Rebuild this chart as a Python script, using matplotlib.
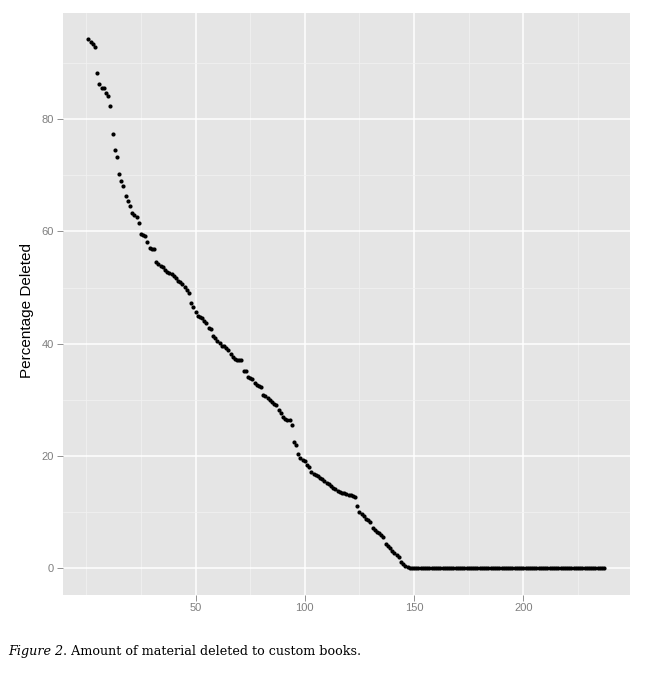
import matplotlib
matplotlib.use("Agg")
import matplotlib.pyplot as plt

# ---- data ----
pct_deleted_head = [
    94.3, 93.8, 93.4, 92.9, 88.2, 86.3, 85.6, 85.5, 84.7, 84.2,   # 1-10
    82.3, 77.4, 74.5, 73.3, 70.3, 69.0, 68.1, 66.3, 65.5, 64.6,   # 11-20
    63.3, 62.9, 62.5, 61.5, 59.6, 59.4, 59.2, 58.2, 57.1, 56.9,   # 21-30
    56.8, 54.6, 54.2, 53.9, 53.7, 53.1, 52.7, 52.6, 52.4, 52.0,   # 31-40
    51.7, 51.2, 50.9, 50.6, 50.1, 49.5, 49.1, 47.3, 46.5, 45.6,   # 41-50
    45.0, 44.7, 44.5, 44.1, 43.6, 42.8, 42.6, 41.4, 41.0, 40.4,   # 51-60
    40.1, 39.6, 39.5, 39.2, 38.8, 38.2, 37.6, 37.3, 37.1, 37.0,   # 61-70
    37.0, 35.2, 35.1, 34.1, 33.9, 33.7, 32.9, 32.7, 32.5, 32.2,   # 71-80
    30.9, 30.7, 30.3, 30.0, 29.6, 29.3, 29.0, 28.2, 27.6, 27.0,   # 81-90
    26.6, 26.4, 26.3, 25.5, 22.5, 22.0, 20.4, 19.7, 19.3, 19.1,   # 91-100
    18.3, 18.0, 17.1, 16.7, 16.5, 16.4, 16.1, 15.8, 15.5, 15.1,   # 101-110
    14.9, 14.6, 14.3, 14.0, 13.7, 13.5, 13.4, 13.3, 13.2, 13.1,   # 111-120
    13.0, 12.8, 12.7, 11.0, 10.0, 9.6, 9.2, 8.8, 8.5, 8.2,        # 121-130
    7.2, 6.8, 6.5, 6.2, 5.9, 5.6, 4.3, 3.9, 3.5, 3.1,             # 131-140
    2.7, 2.3, 2.0, 1.1, 0.8, 0.4, 0.1,                            # 141-147
]
pct_deleted_tail = [
    0, 0, 0, 0, 0, 0, 0, 0, 0, 0, 0, 0, 0, 0, 0,
    0, 0, 0, 0, 0, 0, 0, 0, 0, 0, 0, 0, 0, 0, 0,
    0, 0, 0, 0, 0, 0, 0, 0, 0, 0, 0, 0, 0, 0, 0,
    0, 0, 0, 0, 0, 0, 0, 0, 0, 0, 0, 0, 0, 0, 0,
    0, 0, 0, 0, 0, 0, 0, 0, 0, 0, 0, 0, 0, 0, 0,
    0, 0, 0, 0, 0, 0, 0, 0, 0, 0, 0, 0, 0, 0, 0,
]  # books 148-237
pct_deleted = pct_deleted_head + pct_deleted_tail
book_index = list(range(1, len(pct_deleted) + 1))

x_major = [50, 100, 150, 200]
x_minor = [0, 25, 75, 125, 175, 225]
y_major = [0, 20, 40, 60, 80]
y_minor = [10, 30, 50, 70, 90]
y_label = "Percentage Deleted"
caption_italic = "Figure 2"
caption_rest = ". Amount of material deleted to custom books."

# ---- figure ----
W, H = 654, 677
fig = plt.figure(figsize=(W / 100, H / 100), dpi=100)
fig.patch.set_facecolor("white")
left, right, top, bottom = 62.7, 630, 12.5, 594.5
ax = fig.add_axes([left / W, 1 - bottom / H, (right - left) / W, (bottom - top) / H])
ax.set_facecolor("#E5E5E5")
for s in ax.spines.values():
    s.set_visible(False)

ax.scatter(book_index, pct_deleted, s=9, color="black", linewidths=0, zorder=3)

xmin, xmax = min(book_index), max(book_index)
xr = xmax - xmin
ax.set_xlim(xmin - 0.05 * xr, xmax + 0.05 * xr)
ymin, ymax = min(pct_deleted), max(pct_deleted)
yr = ymax - ymin
ax.set_ylim(ymin - 0.05 * yr, ymax + 0.05 * yr)

ax.set_xticks(x_major)
ax.set_xticks(x_minor, minor=True)
ax.set_yticks(y_major)
ax.set_yticks(y_minor, minor=True)
ax.set_axisbelow(True)
ax.grid(which="major", color="white", linewidth=1.1)
ax.grid(which="minor", color="#F2F2F2", linewidth=0.5)
ax.tick_params(which="minor", length=0)
ax.tick_params(which="major", length=4.3, width=0.6, color="#7F7F7F",
               labelcolor="#7F7F7F", labelsize=8, pad=1.8)
for lab in ax.get_xticklabels() + ax.get_yticklabels():
    lab.set_family("Liberation Sans")

ax.set_ylabel(y_label, fontsize=11, family="Liberation Sans", color="black")
ax.yaxis.set_label_coords(-(left - 33.5) / (right - left), (bottom - 311) / (bottom - top))

t1 = fig.text(8 / W, 1 - 655 / H, caption_italic, fontsize=9.2, family="DejaVu Serif",
              style="italic", va="baseline", ha="left")
fig.canvas.draw()
bb = t1.get_window_extent()
fig.text(bb.x1 / W, 1 - 655 / H, caption_rest, fontsize=9.2, family="DejaVu Serif",
         va="baseline", ha="left")

fig.savefig("out.png", dpi=100)
